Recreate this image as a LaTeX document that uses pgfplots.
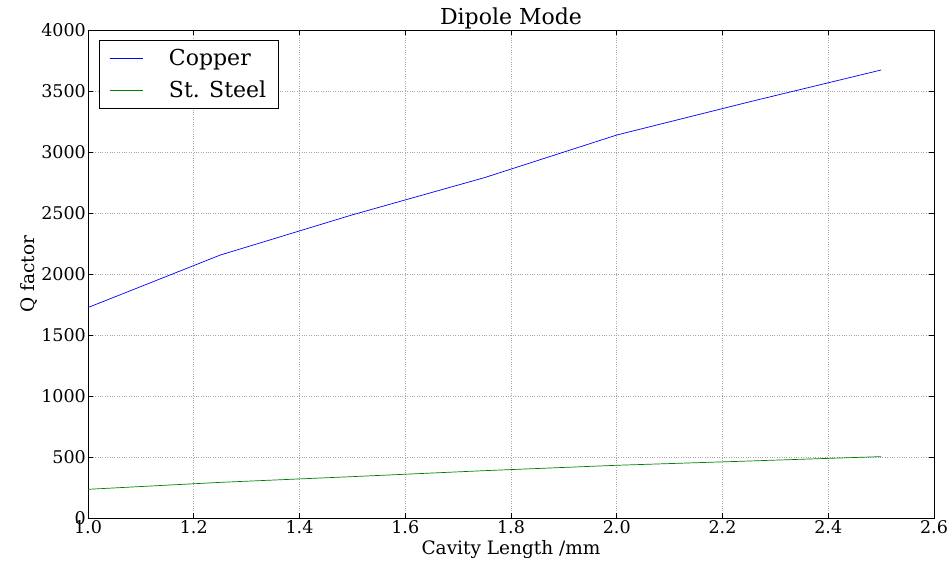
\documentclass[border=0pt]{standalone}
\usepackage{pgfplots}
\pgfplotsset{compat=1.18}
\usetikzlibrary{calc}
\usepackage{fontspec}
\setmainfont{DejaVu Serif}
\begin{document}
\begin{tikzpicture}
\begin{axis}[
  name=ax,
  scale only axis,
  width=846pt, height=488pt,
  xmin=1.0, xmax=2.6, ymin=0, ymax=4000,
  xtick={1.0,1.2,1.4,1.6,1.8,2.0,2.2,2.4,2.6},
  ytick={0,500,1000,1500,2000,2500,3000,3500,4000},
  xticklabel style={/pgf/number format/fixed,/pgf/number format/fixed zerofill,/pgf/number format/precision=1, inner sep=2pt},
  yticklabel style={/pgf/number format/1000 sep={}, inner sep=2pt},
  /pgf/number format/assume math mode=true,
  scaled ticks=false,
  tick align=inside,
  major tick length=5pt,
  tick style={black, line width=0.6pt},
  axis line style={black, line width=0.8pt},
  grid=major,
  major grid style={gray!70, dotted, line width=0.6pt},
  ticklabel style={font=\fontsize{17.5}{20}\selectfont},
  title={Dipole Mode},
  title style={font=\fontsize{22}{26}\selectfont, yshift=-9pt},
  xlabel={Cavity Length /mm},
  ylabel={Q factor},
  xlabel style={font=\fontsize{18.5}{22}\selectfont, yshift=-1pt},
  ylabel style={font=\fontsize{18.5}{22}\selectfont, yshift=-2pt},
  legend style={at={(rel axis cs:0,1)}, anchor=north west, xshift=11pt, yshift=-10pt,
    font=\fontsize{22}{26}\selectfont, draw=black, line width=0.8pt, inner xsep=10pt, inner ysep=7pt, row sep=9.5pt},
  legend cell align=left,
  legend image code/.code={\draw[#1, line width=0.6pt] (4pt,0pt) -- (37pt,0pt);},
]
\addplot[color={rgb,1:red,0;green,0;blue,1}, line width=0.7pt] coordinates {
(1.0,1725) (1.25,2155) (1.5,2485) (1.75,2790) (2.0,3139) (2.25,3410) (2.5,3672)};
\addlegendentry{\hspace{24pt}Copper}
\addplot[color={rgb,1:red,0;green,0.5;blue,0}, line width=0.7pt] coordinates {
(1.0,235) (1.25,292) (1.5,339) (1.75,388) (2.0,432) (2.25,467) (2.5,503)};
\addlegendentry{\hspace{24pt}St. Steel}
\end{axis}
\pgfresetboundingbox
\path[use as bounding box] ($(ax.south west)+(-88pt,-44pt)$) rectangle ($(ax.north east)+(17pt,30pt)$);
\end{tikzpicture}
\end{document}
